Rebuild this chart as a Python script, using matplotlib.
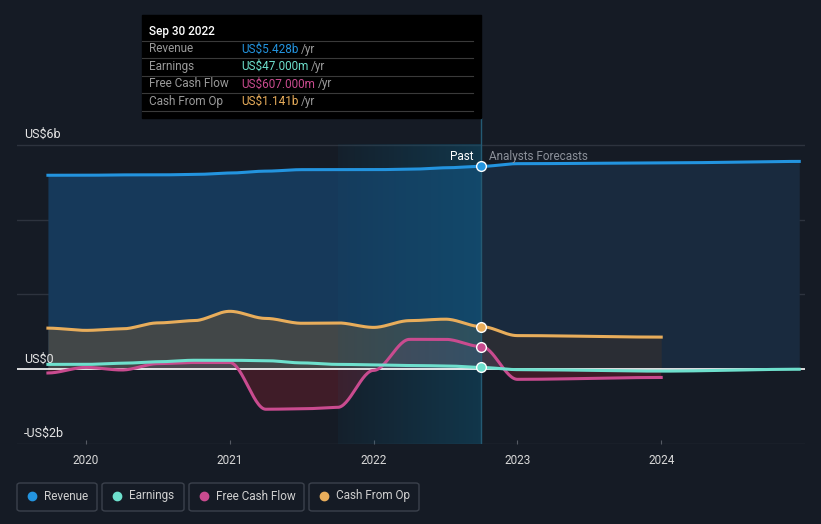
import matplotlib.pyplot as plt
import matplotlib.patches as mpatches
import numpy as np

plt.rcParams['font.family'] = ['Roboto', 'DejaVu Sans']

# past values (US$ b), quarterly from Sep 2019 to Sep 2022
past_t = [2019.735, 2020.0, 2020.25, 2020.5, 2020.75, 2021.0, 2021.25, 2021.5,
          2021.75, 2022.0, 2022.25, 2022.5, 2022.75]
revenue = [5.19, 5.19, 5.2, 5.2, 5.21, 5.25, 5.3, 5.34, 5.34, 5.34, 5.35, 5.39, 5.428]
earnings = [0.13, 0.13, 0.16, 0.2, 0.24, 0.24, 0.23, 0.17, 0.13, 0.12, 0.1, 0.09, 0.047]
fcf = [-0.1, 0.05, -0.02, 0.15, 0.18, 0.18, -1.07, -1.06, -1.02, -0.03, 0.8, 0.8, 0.607]
cfo = [1.1, 1.04, 1.08, 1.24, 1.3, 1.55, 1.36, 1.23, 1.24, 1.12, 1.3, 1.34, 1.141]

# analyst forecasts
fc_t = [2022.75, 2023.0, 2024.0, 2024.96]
revenue_fc = [5.428, 5.5, 5.52, 5.56]
earnings_fc = [0.047, -0.01, -0.05, 0.0]
fc_t2 = [2022.75, 2023.0, 2024.0]
fcf_fc = [0.607, -0.27, -0.22]
cfo_fc = [1.141, 0.9, 0.86]

years = [2020, 2021, 2022, 2023, 2024]
ytick_vals = [6, 0, -2]
ytick_labels = ['US$6b', 'US$0', '-US$2b']

BG = '#151b25'
C_REV = '#2394df'
C_EARN = '#6ee0cd'
C_FCF = '#c94b8f'
C_CFO = '#e8ad5b'
NOW = 2022.75


def smooth(t, v, n=30):
    # eased curve between points
    t = np.asarray(t, float)
    v = np.asarray(v, float)
    xs, ys = [], []
    for i in range(len(t) - 1):
        s = np.linspace(0, 1, n, endpoint=False)
        h = 3 * s ** 2 - 2 * s ** 3
        xs.append(t[i] + (t[i + 1] - t[i]) * s)
        ys.append(v[i] + (v[i + 1] - v[i]) * h)
    xs.append([t[-1]])
    ys.append([v[-1]])
    return np.concatenate(xs), np.concatenate(ys)


fig = plt.figure(figsize=(8.21, 5.24), dpi=100, facecolor=BG)
ax = fig.add_axes([17 / 821, 1 - 444 / 524, (805 - 17) / 821, (444 - 118) / 524])
ax.set_facecolor(BG)
ax.set_xlim(2019.52, 2025.0)
ytop = 6 + 27 / 37.4
ax.set_ylim(-2, ytop)

rx, ry = smooth(past_t + fc_t[1:], revenue + revenue_fc[1:])
ex, ey = smooth(past_t + fc_t[1:], earnings + earnings_fc[1:])
fx, fy = smooth(past_t + fc_t2[1:], fcf + fcf_fc[1:])
cx, cy = smooth(past_t + fc_t2[1:], cfo + cfo_fc[1:])

# area fills
ax.fill_between(rx, 0, ry, where=rx <= NOW, color='#16395a', lw=0, zorder=1)
ax.fill_between(rx, 0, ry, where=rx >= NOW, color='#192a3e', lw=0, zorder=1)
ax.fill_between(cx, 0, cy, where=cx <= NOW, color='#4a4a45', alpha=0.85, lw=0, zorder=2)
ax.fill_between(cx, 0, cy, where=cx >= NOW, color='#2c2e33', alpha=0.9, lw=0, zorder=2)
ax.fill_between(fx, 0, fy, where=fy < 0, color='#3f1c28', lw=0, zorder=2)
ax.fill_between(fx, 0, fy, where=fy > 0, color='#6a4a6a', alpha=0.3, lw=0, zorder=2)

# highlight of the last past year, brighter towards the present
grad = np.zeros((1, 100, 4))
grad[..., 0] = 0.05
grad[..., 1] = 0.38
grad[..., 2] = 0.52
grad[..., 3] = np.linspace(0.08, 0.4, 100)
ax.imshow(grad, extent=(2021.75, NOW, -2, 6), aspect='auto', zorder=3,
          interpolation='bilinear')
ax.plot([NOW, NOW], [-2, ytop], color='#245a73', lw=1, zorder=3)

for v in [6, 4, 2, -2]:
    ax.axhline(v, color='#2d333e', lw=1, zorder=0.5)
ax.axhline(0, color='white', lw=1.2, zorder=4)

ax.plot(rx, ry, color=C_REV, lw=2.2, zorder=5)
ax.plot(cx, cy, color=C_CFO, lw=2.2, zorder=5)
ax.plot(fx, fy, color=C_FCF, lw=2.2, zorder=5)
ax.plot(ex, ey, color=C_EARN, lw=2.2, zorder=5)

for val, c in [(revenue[-1], C_REV), (cfo[-1], C_CFO), (fcf[-1], C_FCF), (earnings[-1], C_EARN)]:
    ax.plot(NOW, val, 'o', ms=7, mfc=c, mec='white', mew=1, zorder=6)

ax.text(NOW - 0.055, 5.53, 'Past', color='white', fontsize=8.5, ha='right', va='bottom', zorder=7)
ax.text(NOW + 0.05, 5.53, 'Analysts Forecasts', color='#8b9099', fontsize=8.5, ha='left', va='bottom', zorder=7)

for v, lab in zip(ytick_vals, ytick_labels):
    ax.text(2019.57, v + 0.1, lab, color='#e6e6e6', fontsize=9, ha='left', va='bottom', zorder=7)

ax.set_xticks(years)
ax.set_xticklabels([str(y) for y in years], color='#d8d8d8', fontsize=8.5)
ax.tick_params(axis='x', direction='in', length=3, color='#555a63', pad=7)
ax.set_yticks([])
for s in ax.spines.values():
    s.set_visible(False)

# tooltip box
tip = mpatches.Rectangle((142 / 821, 1 - 118 / 524), (481 - 142) / 821, 103 / 524,
                         transform=fig.transFigure, color='black', zorder=0)
fig.patches.append(tip)
fig.text(149 / 821, 1 - 31 / 524, 'Sep 30 2022', color='white', fontsize=8.5,
         fontweight='medium', va='center', zorder=11)
rows = [('Revenue', 'US$5.428b', C_REV), ('Earnings', 'US$47.000m', C_EARN),
        ('Free Cash Flow', 'US$607.000m', C_FCF), ('Cash From Op', 'US$1.141b', C_CFO)]
for i, (name, val, c) in enumerate(rows):
    y = 49 + i * 17.5
    fig.add_artist(plt.Line2D([142 / 821, 473 / 821], [1 - (y - 8.5) / 524] * 2,
                              color='#3a3a3a', lw=0.8, transform=fig.transFigure, zorder=11))
    fig.text(149 / 821, 1 - y / 524, name, color='#9a9a9a', fontsize=8.5, va='center', zorder=11)
    t = fig.text(241 / 821, 1 - y / 524, val, color=c, fontsize=8.5, va='center', zorder=11)
    fig.canvas.draw()
    bb = t.get_window_extent()
    fig.text((bb.x1 + 3) / 821, 1 - y / 524, '/yr', color='#9a9a9a', fontsize=8.5, va='center', zorder=11)
fig.add_artist(plt.Line2D([142 / 821, 473 / 821], [1 - 110.5 / 524] * 2,
                          color='#3a3a3a', lw=0.8, transform=fig.transFigure, zorder=11))

# legend
legend_items = [('Revenue', C_REV, 17, 97), ('Earnings', C_EARN, 102, 184),
                ('Free Cash Flow', C_FCF, 189, 304), ('Cash From Op', C_CFO, 309, 419)]
for name, c, x0, x1 in legend_items:
    box = mpatches.FancyBboxPatch((x0 / 821, 1 - 511 / 524), (x1 - x0) / 821, 28 / 524,
                                  boxstyle='round,pad=0,rounding_size=0.004',
                                  transform=fig.transFigure, fc='none', ec='#3b414c', lw=1)
    fig.patches.append(box)
    fig.add_artist(plt.Line2D([(x0 + 15) / 821], [1 - 496 / 524], marker='o', ms=6,
                              mfc=c, mec=c, transform=fig.transFigure))
    fig.text((x0 + 27) / 821, 1 - 496 / 524, name, color='#d0d0d0', fontsize=8.5, va='center')

fig.savefig('out.png', dpi=100, facecolor=BG)
